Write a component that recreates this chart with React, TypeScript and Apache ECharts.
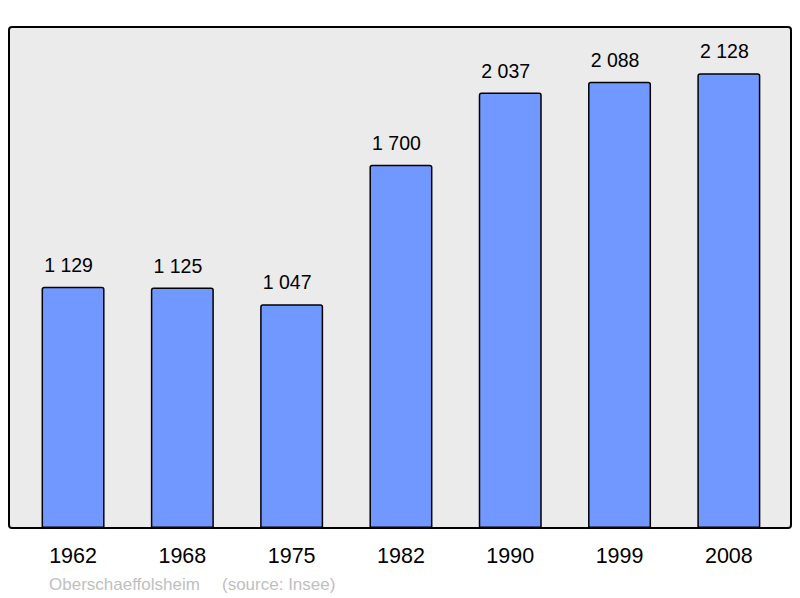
import React, { useEffect, useRef } from "react";
import * as echarts from "echarts";

const years = ["1962", "1968", "1975", "1982", "1990", "1999", "2008"];
const population = [1129, 1125, 1047, 1700, 2037, 2088, 2128];
const commune = "Oberschaeffolsheim";
const source = "(source: Insee)";

const fmt = (v: number) => String(v).replace(/\B(?=(\d{3})+(?!\d))/g, " ");

export default function App() {
  const ref = useRef<HTMLDivElement>(null);
  useEffect(() => {
    if (!ref.current) return;
    const chart = echarts.init(ref.current, null, { renderer: "svg" });
    chart.setOption({
      animation: false,
      textStyle: { fontFamily: "Liberation Sans, Arial, sans-serif" },
      graphic: [
        {
          type: "rect",
          z: -10,
          shape: { x: 9, y: 27, width: 782, height: 501, r: 3 },
          style: { fill: "#ebebeb", stroke: "#000", lineWidth: 2 },
        },
        {
          type: "text",
          left: 49,
          top: 576,
          style: {
            text: commune,
            fill: "#c0c0c0",
            font: "17px 'Liberation Sans', Arial, sans-serif",
          },
        },
        {
          type: "text",
          left: 222,
          top: 576,
          style: {
            text: source,
            fill: "#c0c0c0",
            font: "17px 'Liberation Sans', Arial, sans-serif",
          },
        },
      ],
      grid: { left: 18.4, right: 16.5, top: 27, bottom: 70, containLabel: false },
      xAxis: {
        type: "category",
        data: years,
        axisLine: { show: false },
        axisTick: { show: false },
        axisLabel: {
          color: "#000",
          fontSize: 21.5,
          margin: 17,
          fontFamily: "Liberation Sans, Arial, sans-serif",
        },
      },
      yAxis: {
        type: "value",
        min: 0,
        max: 2344,
        show: false,
        splitLine: { show: false },
      },
      series: [
        {
          type: "bar",
          data: population,
          barWidth: 63,
          itemStyle: {
            color: "#7098ff",
            borderColor: "#000",
            borderWidth: 1.5,
            borderRadius: [2, 2, 0, 0],
          },
          label: {
            show: true,
            position: "top",
            distance: 12,
            offset: [-4.5, 0],
            color: "#000",
            fontSize: 19.5,
            fontFamily: "Liberation Sans, Arial, sans-serif",
            formatter: (p: any) => fmt(p.value),
          },
        },
      ],
    });
    return () => chart.dispose();
  }, []);
  return <div ref={ref} style={{ width: 800, height: 598, position: "absolute", left: 0, top: 0 }} />;
}
